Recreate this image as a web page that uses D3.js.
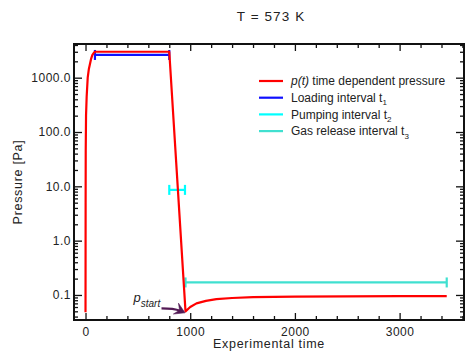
<!DOCTYPE html>
<html>
<head>
<meta charset="utf-8">
<script src="https://cdn.jsdelivr.net/npm/d3@7"></script>
<style>
  html, body { margin: 0; padding: 0; background: #fff; }
  text { font-family: "Liberation Sans", Arial, Helvetica, sans-serif; fill: #222; }
</style>
</head>
<body>
<svg id="chart" width="472" height="356"></svg>
<script>
// ---------------- data ----------------
const chartTitle = "T = 573 K";
const xLabel = "Experimental time";
const yLabel = "Pressure [Pa]";

// p(t) time dependent pressure
const timeValues = [0, 1, 2, 5, 11, 21, 32, 43, 54, 65, 78, 90, 800, 955, 1000, 1060, 1150, 1250, 1400, 1600, 1800, 2000, 2500, 3000, 3450];
const pressureValues = [0.048, 5, 46, 200, 450, 1000, 1450, 1800, 2250, 2600, 2850, 3000, 3000, 0.05, 0.06, 0.07, 0.078, 0.084, 0.088, 0.091, 0.092, 0.093, 0.094, 0.095, 0.095];

// intervals t1, t2, t3
const intervalStart = [90, 800, 955];
const intervalEnd = [800, 950, 3450];
const intervalLevel = [2620, 8.6, 0.17];

// p_start point
const pStartTime = 955;
const pStartValue = 0.05;

// legend
const legendLabels = ["p(t) time dependent pressure", "Loading interval t", "Pumping interval t", "Gas release interval t"];
const legendSubs = ["", "1", "2", "3"];

// ticks
const xTickValues = [0, 1000, 2000, 3000];
const xTickLabels = ["0", "1000", "2000", "3000"];
const yTickValues = [0.1, 1, 10, 100, 1000];
const yTickLabels = ["0.1", "1.0", "10.0", "100.0", "1000.0"];

// ---------------- layout / style ----------------
const W = 472, H = 356;
const plot = { left: 74, right: 464, top: 44, bottom: 320 };
const redColor = "#ff0000";
const intervalColors = ["#1010ff", "#00ffff", "#40e0d0"];
const legendColors = [redColor, "#1010ff", "#00ffff", "#40e0d0"];
const arrowColor = "#531a55";

const svg = d3.select("#chart");

const x = d3.scaleLinear().domain([-110, 3615]).range([plot.left, plot.right]);
const y = d3.scaleLog().domain([0.0346, 4170]).range([plot.bottom, plot.top]);

// minor ticks
const xMinor = d3.range(200, 3700, 200).filter(v => v % 1000 !== 0 && v <= x.domain()[1]);
const yMinor = [];
[0.01, 0.1, 1, 10, 100, 1000].forEach(d => {
  for (let k = 2; k <= 9; k++) {
    const v = d * k;
    if (v >= y.domain()[0] && v <= y.domain()[1]) yMinor.push(v);
  }
});

const gAxes = svg.append("g");

function styleAxis(g) {
  g.select(".domain").remove();
  g.selectAll(".tick line").attr("stroke", "#111").attr("stroke-width", 1.3);
  g.selectAll("text").style("font-size", "12px").style("letter-spacing", "0.5px").attr("fill", "#222");
}

// bottom
gAxes.append("g").attr("transform", `translate(0,${plot.bottom})`)
  .call(d3.axisBottom(x).tickValues(xTickValues).tickFormat((d, i) => xTickLabels[i]).tickSize(-7).tickPadding(7))
  .call(styleAxis);
gAxes.append("g").attr("transform", `translate(0,${plot.bottom})`)
  .call(d3.axisBottom(x).tickValues(xMinor).tickFormat("").tickSize(-4))
  .call(styleAxis);
// top
gAxes.append("g").attr("transform", `translate(0,${plot.top})`)
  .call(d3.axisTop(x).tickValues(xTickValues).tickFormat("").tickSize(-7))
  .call(styleAxis);
gAxes.append("g").attr("transform", `translate(0,${plot.top})`)
  .call(d3.axisTop(x).tickValues(xMinor).tickFormat("").tickSize(-4))
  .call(styleAxis);
// left
gAxes.append("g").attr("transform", `translate(${plot.left},0)`)
  .call(d3.axisLeft(y).tickValues(yTickValues).tickFormat((d, i) => yTickLabels[i]).tickSize(-8).tickPadding(3))
  .call(styleAxis);
gAxes.append("g").attr("transform", `translate(${plot.left},0)`)
  .call(d3.axisLeft(y).tickValues(yMinor).tickFormat("").tickSize(-4))
  .call(styleAxis);
// right
gAxes.append("g").attr("transform", `translate(${plot.right},0)`)
  .call(d3.axisRight(y).tickValues(yTickValues).tickFormat("").tickSize(-8))
  .call(styleAxis);
gAxes.append("g").attr("transform", `translate(${plot.right},0)`)
  .call(d3.axisRight(y).tickValues(yMinor).tickFormat("").tickSize(-4))
  .call(styleAxis);

// frame
svg.append("rect")
  .attr("x", plot.left).attr("y", plot.top)
  .attr("width", plot.right - plot.left).attr("height", plot.bottom - plot.top)
  .attr("fill", "none").attr("stroke", "#111").attr("stroke-width", 2);

// intervals (with end caps)
const capH = 5;
intervalStart.forEach((t0, i) => {
  const t1 = intervalEnd[i], p = intervalLevel[i];
  const g = svg.append("g").attr("stroke", intervalColors[i]).attr("stroke-width", 2.2).attr("fill", "none");
  g.append("line").attr("x1", x(t0)).attr("x2", x(t1)).attr("y1", y(p)).attr("y2", y(p));
  [t0, t1].forEach(t => {
    g.append("line").attr("x1", x(t)).attr("x2", x(t)).attr("y1", y(p) - capH).attr("y2", y(p) + capH);
  });
});

// p(t) curve
const pts = timeValues.map((t, i) => [t, pressureValues[i]]);
svg.append("path")
  .datum(pts)
  .attr("fill", "none")
  .attr("stroke", redColor)
  .attr("stroke-width", 2.2)
  .attr("stroke-linejoin", "round")
  .attr("d", d3.line().x(d => x(d[0])).y(d => y(d[1])));

// p_start annotation
const px = x(pStartTime), py = y(pStartValue);
const ann = svg.append("text")
  .attr("x", px - 52).attr("y", py - 9.5)
  .style("font-style", "italic").style("font-size", "13px").attr("fill", "#333");
ann.append("tspan").text("p");
ann.append("tspan").attr("dy", 5).style("font-size", "10px").text("start");

const tipX = px - 0.5, tipY = py + 1.5;
const tailX = px - 24, tailY = py - 3;
const ang = 25 * Math.PI / 180;
const shaftEndX = tipX - 5 * Math.cos(ang), shaftEndY = tipY - 5 * Math.sin(ang);
svg.append("path")
  .attr("d", `M${tailX},${tailY} Q${px - 12},${py - 3} ${shaftEndX},${shaftEndY}`)
  .attr("fill", "none").attr("stroke", arrowColor).attr("stroke-width", 2.2);
function rot(dx, dy) {
  return [tipX + dx * Math.cos(ang) - dy * Math.sin(ang), tipY + dx * Math.sin(ang) + dy * Math.cos(ang)];
}
const head = [rot(0, 0), rot(-10, -6), rot(-6, 0), rot(-10, 6)];
svg.append("path")
  .attr("d", "M" + head.map(p => p.join(",")).join("L") + "Z")
  .attr("fill", arrowColor).attr("stroke", arrowColor).attr("stroke-width", 0.6).attr("stroke-linejoin", "round");

// legend
const legX = 259, legY0 = 81, legStep = 16.7;
legendLabels.forEach((lab, i) => {
  const yy = legY0 + i * legStep;
  svg.append("line").attr("x1", legX).attr("x2", legX + 24).attr("y1", yy).attr("y2", yy)
    .attr("stroke", legendColors[i]).attr("stroke-width", 2.2);
  const t = svg.append("text").attr("x", legX + 32).attr("y", yy + 4.2)
    .style("font-size", "12px").attr("fill", "#333");
  if (i === 0) {
    t.append("tspan").style("font-style", "italic").text("p(t)");
    t.append("tspan").text(lab.slice(4));
  } else {
    t.append("tspan").text(lab);
    t.append("tspan").attr("dy", 3.5).style("font-size", "8px").text(legendSubs[i]);
  }
});

// title & axis labels
svg.append("text").attr("x", 271).attr("y", 21).attr("text-anchor", "middle")
  .style("font-size", "13.5px").style("letter-spacing", "1.1px").attr("fill", "#222").text(chartTitle);
svg.append("text").attr("x", (plot.left + plot.right) / 2).attr("y", 348).attr("text-anchor", "middle")
  .style("font-size", "12.5px").style("letter-spacing", "0.7px").attr("fill", "#222").text(xLabel);
svg.append("text").attr("transform", `translate(22,${(plot.top + plot.bottom) / 2}) rotate(-90)`)
  .attr("text-anchor", "middle")
  .style("font-size", "12.5px").style("letter-spacing", "0.7px").attr("fill", "#222").text(yLabel);
</script>
</body>
</html>
